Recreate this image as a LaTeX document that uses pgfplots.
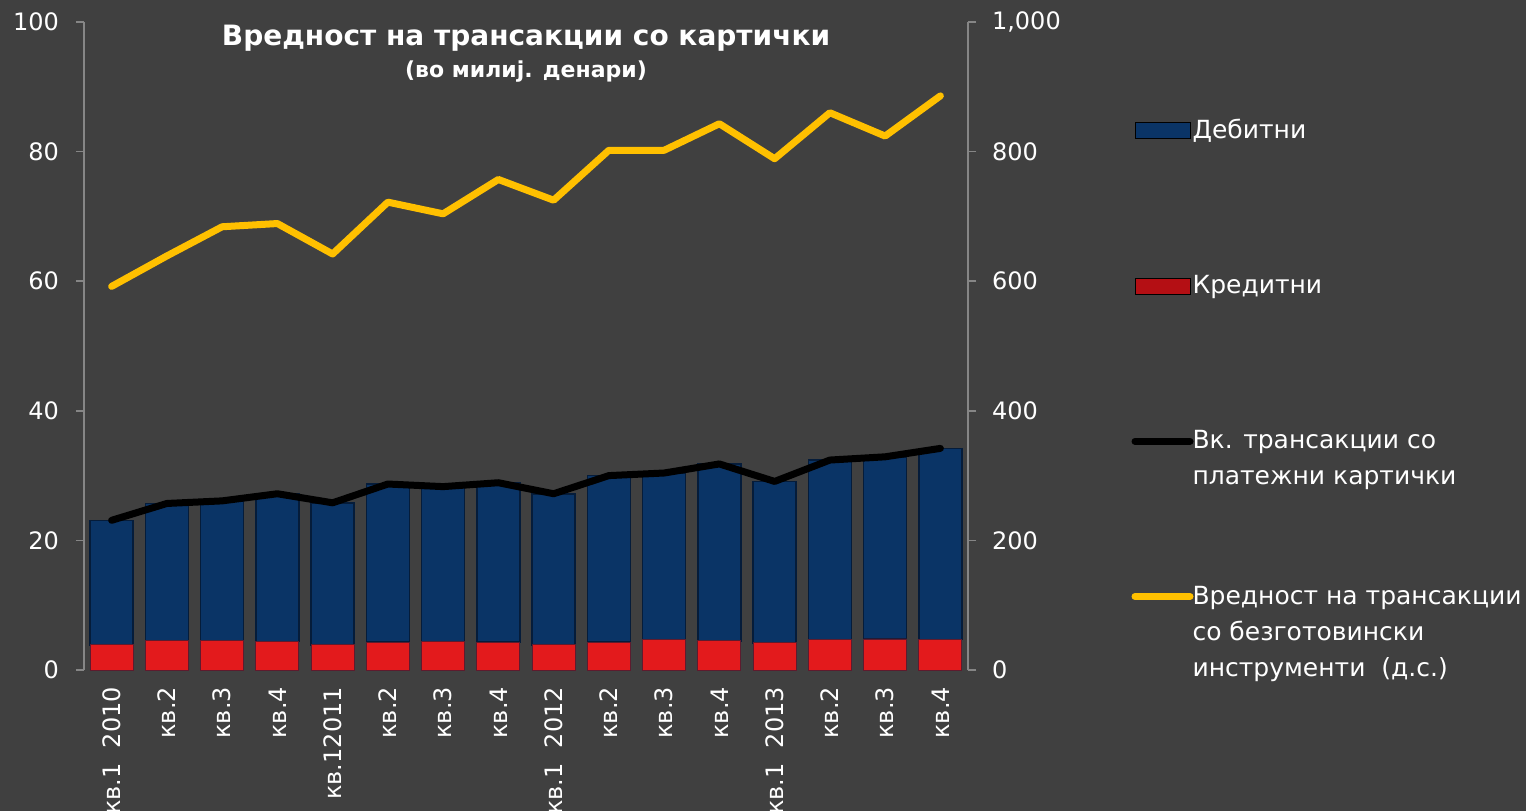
\documentclass[border=0pt]{standalone}
\usepackage{pgfplots}
\usepackage{pgfplotstable}
\pgfplotsset{compat=1.18}
\usepackage{fontspec}
\setmainfont{DejaVu Sans}

\definecolor{bg}{HTML}{404040}
\definecolor{axgray}{HTML}{868686}
\definecolor{debit}{HTML}{0A3466}
\definecolor{debitdark}{HTML}{051C3A}
\definecolor{credit}{HTML}{E31A1C}
\definecolor{creditdark}{HTML}{A00B10}
\definecolor{gold}{HTML}{FFC000}

% quarters 2010-2013: credit, debit (left axis), total cards, cashless value (right axis)
\pgfplotstableread{
x credit debit total cashless
0  3.9 19.2 23.1 592
1  4.5 21.2 25.7 639
2  4.5 21.6 26.1 684
3  4.4 22.8 27.2 689
4  3.9 21.9 25.8 642
5  4.3 24.4 28.7 722
6  4.4 23.9 28.3 704
7  4.3 24.6 28.9 757
8  3.9 23.3 27.2 725
9  4.3 25.7 30.0 802
10 4.7 25.7 30.4 802
11 4.5 27.3 31.8 843
12 4.2 24.9 29.1 789
13 4.7 27.7 32.4 860
14 4.8 28.1 32.9 824
15 4.7 29.5 34.2 886
}\cards

\newcommand\legtext[1]{\hspace*{-2.5pt}\raisebox{0pt}[\height][0pt]{\parbox[t]{8cm}{\raggedright\fontsize{12.5}{18}\selectfont #1}}}

\pgfplotsset{
  base/.style={width=442pt, height=324pt, scale only axis,
    xmin=-0.5, xmax=15.5, clip=false},
  ticks/.style={
    tick align=outside, major tick length=4pt,
    ytick style={draw=axgray, line width=0.8pt},
    y axis line style={draw=axgray, line width=0.8pt},
    yticklabel style={text=white, font=\fontsize{12}{14}\selectfont},
    /pgf/number format/assume math mode=true},
  barleg/.style={legend image code/.code={\fill[##1] (0pt,-4pt) rectangle (27.5pt,4pt);}},
  lineleg/.style={legend image code/.code={\draw[##1] (0pt,0pt) -- (27.5pt,0pt);}},
}

\begin{document}
\begin{tikzpicture}
\fill[bg] (-42pt,-70.5pt) rectangle (721pt,335pt);

\begin{axis}[base, ticks,
  ybar stacked, bar width=21.5pt,
  ymin=0, ymax=100, ytick={0,20,...,100},
  axis y line*=left, axis x line*=bottom,
  x axis line style={draw=none}, xtick style={draw=none},
  xtick={0,...,15},
  xticklabels={кв.1~~2010, кв.2, кв.3, кв.4, кв.12011, кв.2, кв.3, кв.4,
               кв.1~~2012, кв.2, кв.3, кв.4, кв.1~~2013, кв.2, кв.3, кв.4},
  xticklabel style={rotate=90, anchor=east, text=white,
    font=\fontsize{12}{14}\selectfont, xshift=-1pt},
  yticklabel style={xshift=-5pt},
  title={Вредност на трансакции со картички\\[0pt]{\fontsize{11}{16}\selectfont (во милиј. денари)}},
  title style={at={(0.5,1)}, anchor=north, yshift=-7.5pt, inner sep=0pt,
    text=white, align=center, font=\bfseries\fontsize{14}{16}\selectfont},
]
\addplot[draw=debitdark!60!credit, line width=0.4pt, fill=credit]
  table[x=x, y=credit] {\cards};
\addplot[draw=debitdark, line width=0.8pt, fill=debit]
  table[x=x, y=debit] {\cards};
\end{axis}

\begin{axis}[base, hide axis, ymin=0, ymax=100]
\addplot[black, line width=3.5pt, line join=round, line cap=round]
  table[x=x, y=total] {\cards};
\end{axis}

\begin{axis}[base, ticks,
  ymin=0, ymax=1000, ytick={0,200,...,1000},
  axis y line*=right, axis x line=none,
  yticklabel style={xshift=4.5pt, /pgf/number format/1000 sep={,}},
  legend cell align=left,
  legend style={at={(1.1845,0.857)}, anchor=north west, draw=none, fill=none,
    text=white, inner sep=0pt, row sep=63pt},
]
\addplot[gold, line width=3.5pt, line join=round, line cap=round, forget plot]
  table[x=x, y=cashless] {\cards};
\addlegendimage{barleg, fill=debit}
\addlegendentry{\legtext{Дебитни}}
\addlegendimage{barleg, fill=creditdark!70!credit}
\addlegendentry{\legtext{Кредитни}}
\addlegendimage{lineleg, black, line width=3.5pt, line cap=round}
\addlegendentry{\legtext{Вк. трансакции со\\платежни картички}}
\addlegendimage{lineleg, gold, line width=3.5pt, line cap=round}
\addlegendentry{\legtext{Вредност на трансакции\\со безготовински\\инструменти~~(д.с.)}}
\end{axis}

\pgfresetboundingbox
\path (-42pt,-70.5pt) rectangle (721pt,335pt);
\end{tikzpicture}
\end{document}
